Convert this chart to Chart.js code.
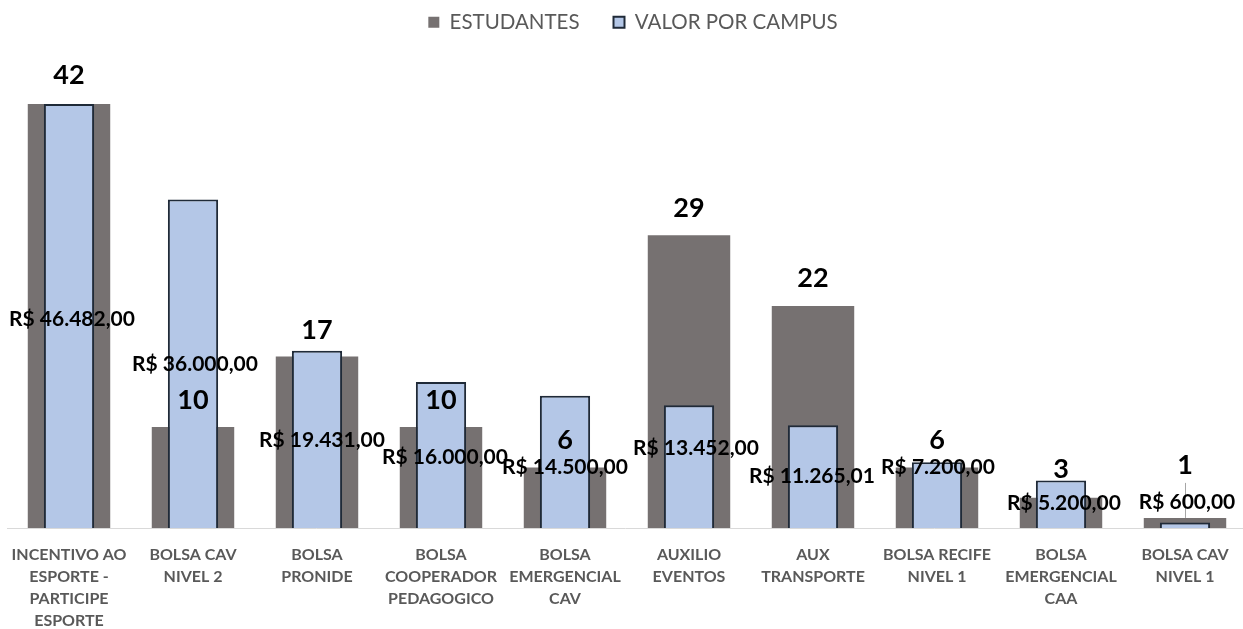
<!DOCTYPE html>
<html><head><meta charset="utf-8">
<script src="https://cdn.jsdelivr.net/npm/chart.js@4.4.0/dist/chart.umd.min.js"></script>
<style>html,body{margin:0;padding:0;background:#fff;}#wrap{width:1243px;height:629px;position:relative;}</style>
</head><body><div id="wrap"><canvas id="c"></canvas></div>
<script>
const categories = [
  ["INCENTIVO AO","ESPORTE -","PARTICIPE","ESPORTE"],
  ["BOLSA CAV","NIVEL 2"],
  ["BOLSA","PRONIDE"],
  ["BOLSA","COOPERADOR","PEDAGOGICO"],
  ["BOLSA","EMERGENCIAL","CAV"],
  ["AUXILIO","EVENTOS"],
  ["AUX","TRANSPORTE"],
  ["BOLSA RECIFE","NIVEL 1"],
  ["BOLSA","EMERGENCIAL","CAA"],
  ["BOLSA CAV","NIVEL 1"]
];
const estudantes = [42,10,17,10,6,29,22,6,3,1];
const valorPorCampus = [46482,36000,19431,16000,14500,13452,11265.01,7200,5200,600];
const seriesNames = ["ESTUDANTES","VALOR POR CAMPUS"];

// label placement tweaks (style only)
const valorLabelShiftY = [3,0,1,2,5,-18,0,-28,-1,-23];
const valorLabelShiftX = [3,2,5,4,0,7,-1,1,3,2];
const estLabelLift = [29,27,26,27,27,27,28,27,28,53];

function brl(v){
  const parts = v.toFixed(2).split('.');
  const intp = parts[0].replace(/\B(?=(\d{3})+(?!\d))/g,'.');
  return 'R$ ' + intp + ',' + parts[1];
}

const FONT = "Lato, 'Open Sans', sans-serif";

const layoutTweak = {
  id:'layoutTweak',
  afterLayout(chart){
    const x = chart.scales.x;
    x.left = 7; x.right = 1247; x.width = 1240; x.configure();
    const l = chart.legend;
    if (l) { l.top -= 26; l.bottom -= 26; l.left += 8; l.right += 8; }
  }
};

const labelPlugin = {
  id:'labels',
  afterDatasetsDraw(chart){
    const ctx = chart.ctx;
    const m0 = chart.getDatasetMeta(0), m1 = chart.getDatasetMeta(1);
    ctx.save();
    const lastG = m0.data[m0.data.length-1];
    ctx.strokeStyle = '#a6a6a6'; ctx.lineWidth = 1;
    ctx.beginPath();
    ctx.moveTo(Math.round(lastG.x)+0.5, lastG.y - estLabelLift[estLabelLift.length-1] + 18);
    ctx.lineTo(Math.round(lastG.x)+0.5, lastG.y);
    ctx.stroke();
    ctx.fillStyle = '#000';
    ctx.textAlign = 'center'; ctx.textBaseline = 'middle';
    ctx.font = "bold 27px " + FONT;
    m0.data.forEach((el,i)=>{
      ctx.fillText(String(estudantes[i]), el.x, el.y - estLabelLift[i]);
    });
    ctx.font = "bold 21px " + FONT;
    m1.data.forEach((el,i)=>{
      const mid = (el.y + el.base)/2;
      ctx.fillText(brl(valorPorCampus[i]), el.x + valorLabelShiftX[i], mid + valorLabelShiftY[i]);
    });
    ctx.restore();
  }
};

function build(){
  const chart = new Chart(document.getElementById('c'), {
    type:'bar',
    data:{
      labels: categories,
      datasets:[
        {label:seriesNames[0], data:estudantes, yAxisID:'y', backgroundColor:'#767171', borderWidth:0,
         barPercentage:0.665, categoryPercentage:1, order:1, grouped:false},
        {label:seriesNames[1], data:valorPorCampus, yAxisID:'y1', backgroundColor:'#B4C7E7', borderColor:'#1F2A38',
         borderWidth:2, borderSkipped:'bottom', barPercentage:0.405, categoryPercentage:1, order:0, grouped:false}
      ]
    },
    options:{
      responsive:false, animation:false, maintainAspectRatio:false,
      layout:{padding:{left:7,right:0,top:4,bottom:0}},
      plugins:{
        tooltip:{enabled:false},
        legend:{position:'top', align:'center',
          labels:{boxWidth:11, boxHeight:11, padding:34, color:'#595959', font:{family:FONT,size:20.5},
            sort:(a,b)=>a.datasetIndex-b.datasetIndex}}
      },
      scales:{
        x:{grid:{display:false, drawTicks:false}, border:{display:true,color:'#d9d9d9',width:1},
           ticks:{color:'#595959', font:{family:FONT,size:16,weight:'bold',lineHeight:'22px'}, padding:16, maxRotation:0, autoSkip:false},
           afterFit:(s)=>{s.height=101;}},
        y:{display:false, min:0, max:50},
        y1:{display:false, min:0, max:55000}
      }
    },
    plugins:[layoutTweak, labelPlugin]
  });
  const a = chart.chartArea;
  chart.options.scales.y.max = (a.bottom - a.top) / ((a.bottom - 104) / 42);
  chart.options.scales.y1.max = (a.bottom - a.top) / ((a.bottom - 104) / 46482);
  chart.update('none');
}
const c = document.getElementById('c'); c.width=1243; c.height=629; c.style.width='1243px'; c.style.height='629px';
if (document.fonts && document.fonts.load) {
  Promise.all([document.fonts.load("bold 20px Lato"), document.fonts.load("20px Lato")]).then(build, build);
} else build();
</script></body></html>
